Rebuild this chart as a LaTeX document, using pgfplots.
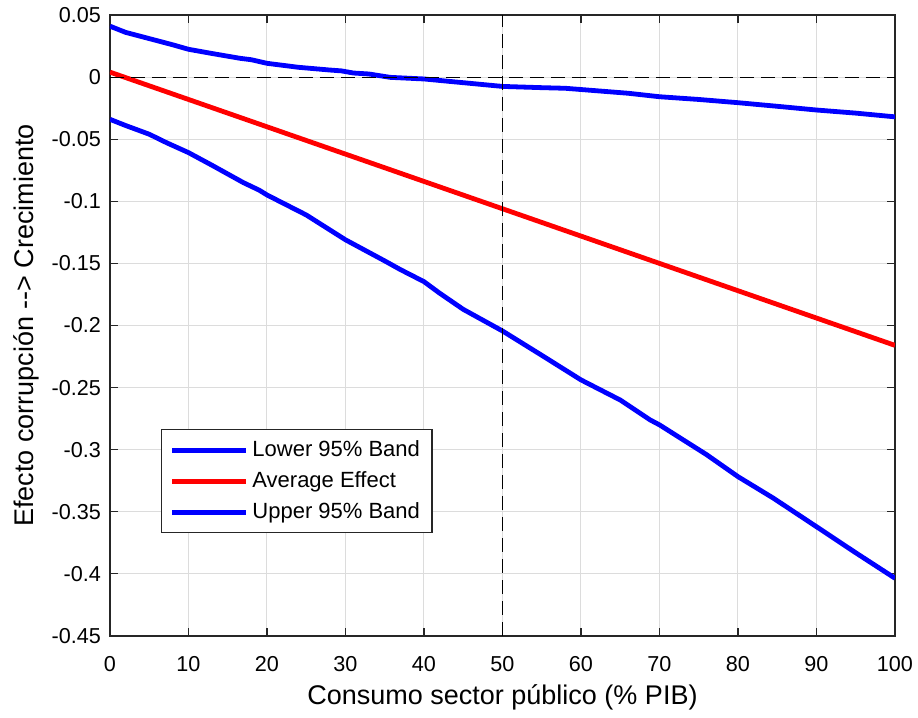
\documentclass[border=0pt]{standalone}
\usepackage{pgfplots}
\pgfplotsset{compat=1.18}
\usepackage{fontspec}
\setmainfont{Liberation Sans}
\definecolor{axgray}{HTML}{262626}
\definecolor{gridgray}{HTML}{DCDCDC}
\begin{document}
\begin{tikzpicture}
\useasboundingbox (-55pt,-41pt) rectangle (404pt,318pt);
\begin{axis}[
  scale only axis,
  width=392.5pt, height=310.5pt,
  xmin=0, xmax=100, ymin=-0.45, ymax=0.05,
  xtick={0,10,...,100},
  ytick={-0.45,-0.4,-0.35,-0.3,-0.25,-0.2,-0.15,-0.1,-0.05,0,0.05},
  yticklabels={-0.45,-0.4,-0.35,-0.3,-0.25,-0.2,-0.15,-0.1,-0.05,0,0.05},
  xticklabels={0,10,20,30,40,50,60,70,80,90,100},
  tick align=inside,
  major tick length=4pt,
  tick style={axgray, line width=0.6pt},
  axis line style={axgray, line width=0.6pt},
  grid=major,
  major grid style={gridgray, line width=0.5pt},
  ticklabel style={font=\fontsize{10.8}{12}\selectfont, text=black},
  xticklabel style={yshift=-6.5pt},
  yticklabel style={xshift=-1pt},
  xlabel={Consumo sector público (\% PIB)},
  ylabel={Efecto corrupción -{}-> Crecimiento},
  label style={font=\fontsize{13.5}{15}\selectfont},
  xlabel style={yshift=0pt},
  ylabel style={yshift=-0.5pt},
  legend style={at={(0.065,0.333)}, anchor=north west, draw=axgray, line width=0.6pt,
    font=\fontsize{11}{13}\selectfont, inner xsep=4pt, inner ysep=3.5pt,
    row sep=2pt, cells={anchor=west}},
  legend cell align=left,
  legend image code/.code={\draw[#1] (0pt,0pt) -- (37pt,0pt);},
]
\addplot[blue, line width=2.4pt] coordinates {
(0,0.041)(2,0.036)(5,0.031)(8,0.026)(10,0.0224)(13,0.019)(16.6,0.0151)(18,0.014)(20,0.0111)
(24,0.0079)(28,0.0057)(29.5,0.005)(31,0.0033)(33,0.0025)(35.7,-0.0002)(40,-0.0015)(45,-0.0045)
(50,-0.0075)(55,-0.0085)(58,-0.009)(62,-0.011)(66,-0.013)(70,-0.0158)(75,-0.018)(80,-0.0206)
(85,-0.0235)(90,-0.0265)(95,-0.029)(100,-0.032)};
\addlegendentry{Lower 95\% Band}
\addplot[red, line width=2.4pt] coordinates {
(0,0.004)(10,-0.018)(20,-0.040)(30,-0.062)(40,-0.084)(50,-0.106)(60,-0.128)(70,-0.150)
(80,-0.172)(90,-0.194)(100,-0.216)};
\addlegendentry{Average Effect}
\addplot[blue, line width=2.4pt] coordinates {
(0,-0.034)(2,-0.039)(5,-0.046)(7.2,-0.0528)(10,-0.0608)(13,-0.071)(17,-0.085)(19,-0.091)
(20,-0.0949)(25,-0.111)(30,-0.131)(35,-0.148)(37,-0.155)(40,-0.1647)(42,-0.174)(45,-0.187)
(50,-0.2044)(55,-0.224)(60,-0.2438)(65,-0.26)(68.8,-0.276)(70,-0.280)(76,-0.304)(80,-0.3217)
(84.5,-0.339)(90,-0.362)(95,-0.383)(100,-0.4035)};
\addlegendentry{Upper 95\% Band}
\addplot[black, line width=0.6pt, dash pattern=on 7pt off 3.5pt, forget plot] coordinates {(0,0)(100,0)};
\addplot[black, line width=0.6pt, dash pattern=on 7pt off 3.5pt, forget plot] coordinates {(50,-0.45)(50,0.05)};
\end{axis}
\end{tikzpicture}
\end{document}
